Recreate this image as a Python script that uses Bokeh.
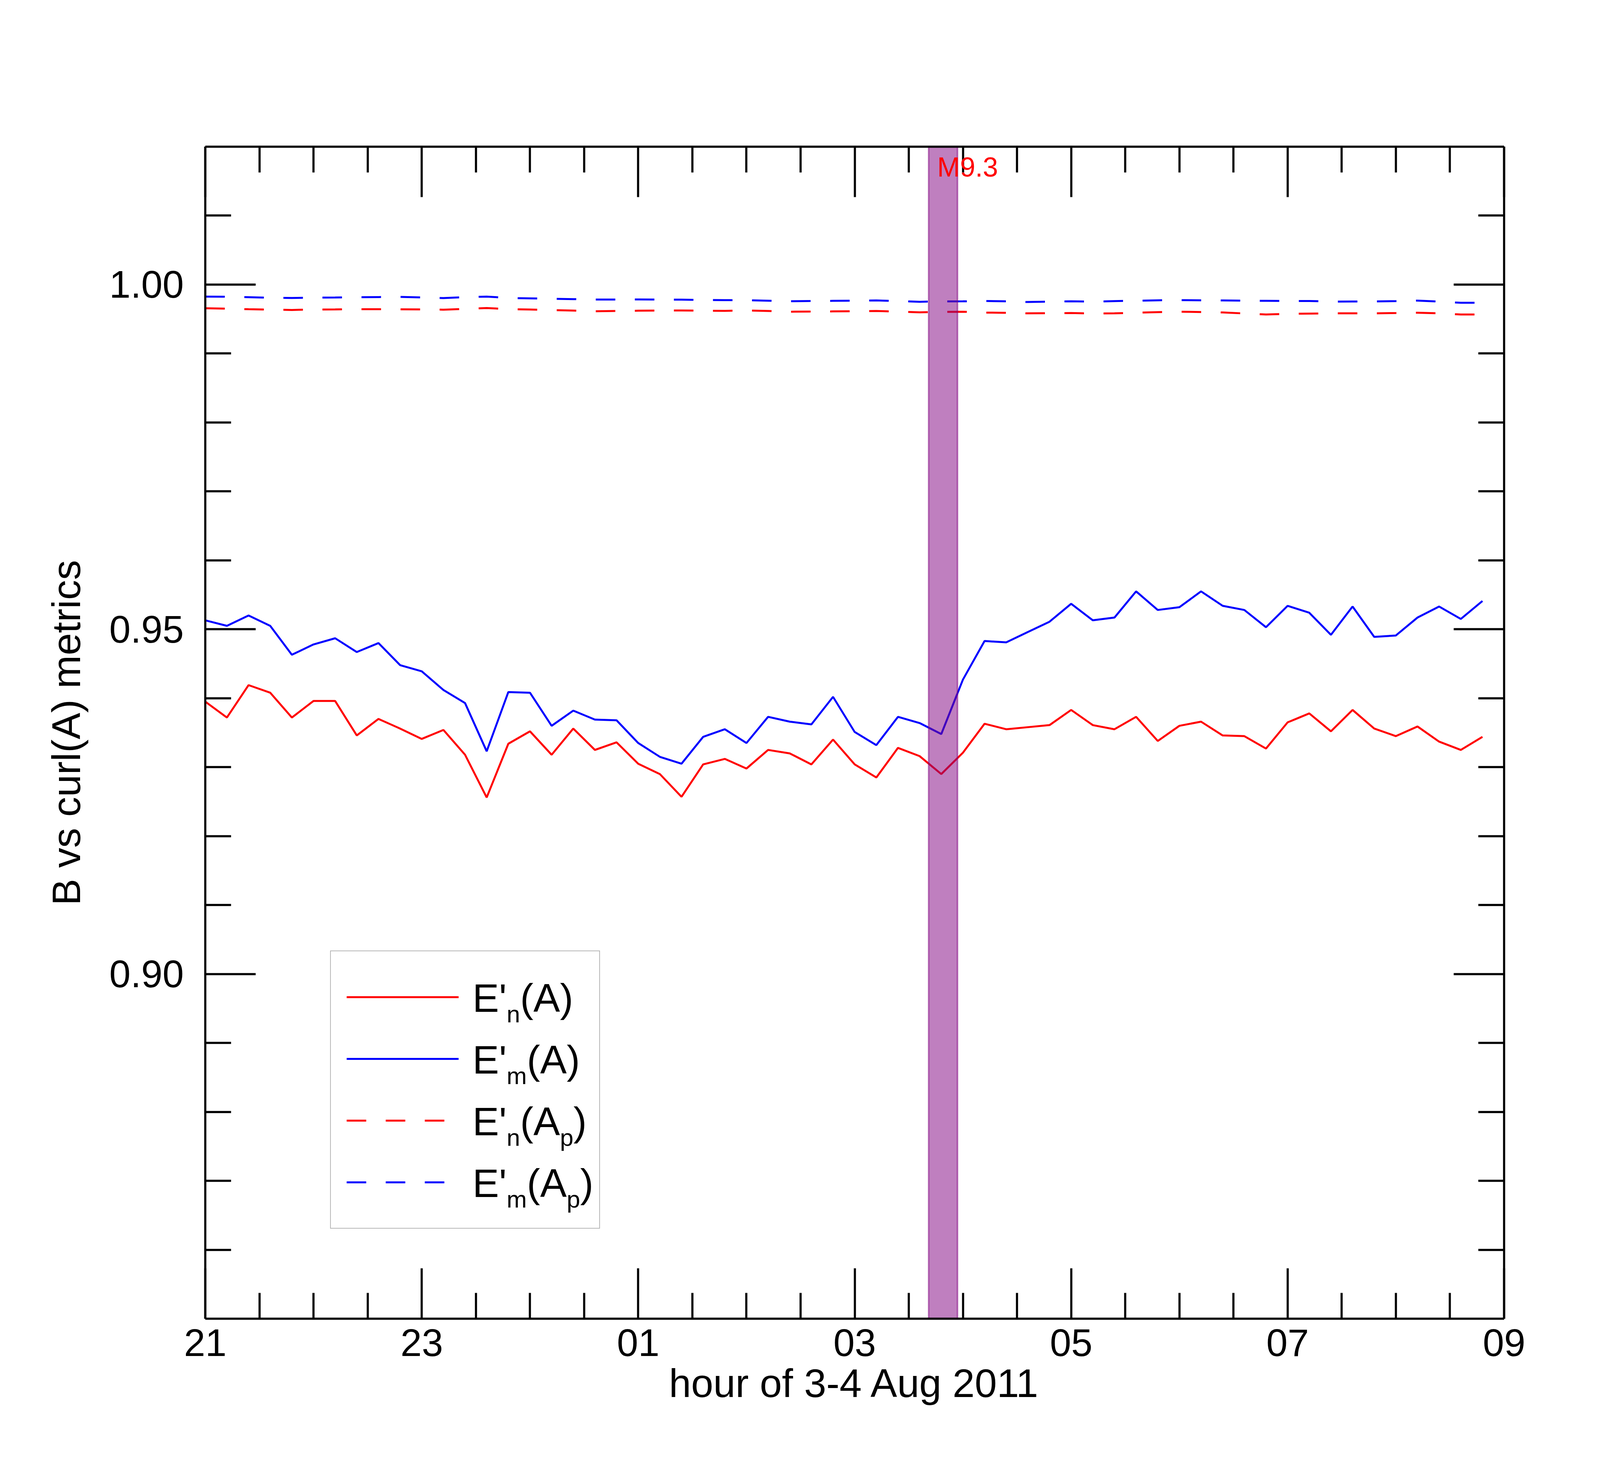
from bokeh.plotting import figure
from bokeh.models import (FixedTicker, LinearAxis, Legend, LegendItem, Label,
                          NumeralTickFormatter, CustomJSTickFormatter, Range1d)
from bokeh.embed import file_html
from bokeh.resources import INLINE

# ---------------- data ----------------
times = ["21:00", "21:12", "21:24", "21:36", "21:48", "22:00", "22:12", "22:24", "22:36", "22:48",
         "23:00", "23:12", "23:24", "23:36", "23:48", "00:00", "00:12", "00:24", "00:36", "00:48",
         "01:00", "01:12", "01:24", "01:36", "01:48", "02:00", "02:12", "02:24", "02:36", "02:48",
         "03:00", "03:12", "03:24", "03:36", "03:48", "04:00", "04:12", "04:24", "04:36", "04:48",
         "05:00", "05:12", "05:24", "05:36", "05:48", "06:00", "06:12", "06:24", "06:36", "06:48",
         "07:00", "07:12", "07:24", "07:36", "07:48", "08:00", "08:12", "08:24", "08:36", "08:48"]

en_A = [0.9395, 0.9372, 0.9419, 0.9408, 0.9372, 0.9396, 0.9396, 0.9346, 0.9370, 0.9356,
        0.9341, 0.9354, 0.9318, 0.9256, 0.9334, 0.9352, 0.9318, 0.9356, 0.9325, 0.9336,
        0.9305, 0.9290, 0.9257, 0.9304, 0.9312, 0.9298, 0.9325, 0.9320, 0.9304, 0.9340,
        0.9304, 0.9285, 0.9328, 0.9316, 0.9290, 0.9321, 0.9363, 0.9355, 0.9358, 0.9361,
        0.9383, 0.9361, 0.9355, 0.9373, 0.9338, 0.9360, 0.9366, 0.9346, 0.9345, 0.9327,
        0.9365, 0.9378, 0.9352, 0.9383, 0.9356, 0.9345, 0.9359, 0.9337, 0.9325, 0.9344]

em_A = [0.9513, 0.9505, 0.9520, 0.9505, 0.9463, 0.9478, 0.9487, 0.9467, 0.9480, 0.9448,
        0.9439, 0.9412, 0.9393, 0.9323, 0.9409, 0.9408, 0.9360, 0.9382, 0.9369, 0.9368,
        0.9335, 0.9315, 0.9305, 0.9344, 0.9355, 0.9335, 0.9373, 0.9366, 0.9362, 0.9402,
        0.9351, 0.9332, 0.9373, 0.9364, 0.9348, 0.9427, 0.9483, 0.9481, 0.9496, 0.9511,
        0.9537, 0.9513, 0.9517, 0.9555, 0.9528, 0.9532, 0.9555, 0.9534, 0.9528, 0.9503,
        0.9534, 0.9524, 0.9492, 0.9533, 0.9489, 0.9491, 0.9517, 0.9533, 0.9515, 0.9541]

en_Ap = [0.99657, 0.99651, 0.99643, 0.99636, 0.99632, 0.99638, 0.99640, 0.99643, 0.99643, 0.99641,
         0.99640, 0.99636, 0.99647, 0.99660, 0.99643, 0.99638, 0.99630, 0.99623, 0.99613, 0.99617,
         0.99621, 0.99623, 0.99624, 0.99621, 0.99619, 0.99624, 0.99617, 0.99606, 0.99609, 0.99611,
         0.99613, 0.99617, 0.99607, 0.99598, 0.99604, 0.99606, 0.99594, 0.99590, 0.99583, 0.99585,
         0.99587, 0.99581, 0.99583, 0.99592, 0.99600, 0.99606, 0.99602, 0.99596, 0.99581, 0.99566,
         0.99575, 0.99579, 0.99583, 0.99583, 0.99583, 0.99587, 0.99592, 0.99583, 0.99566, 0.99566]

em_Ap = [0.99826, 0.99823, 0.99817, 0.99809, 0.99806, 0.99811, 0.99813, 0.99817, 0.99819, 0.99821,
         0.99813, 0.99804, 0.99817, 0.99826, 0.99806, 0.99800, 0.99794, 0.99789, 0.99783, 0.99783,
         0.99785, 0.99783, 0.99781, 0.99777, 0.99774, 0.99774, 0.99766, 0.99758, 0.99762, 0.99764,
         0.99766, 0.99770, 0.99760, 0.99751, 0.99755, 0.99757, 0.99762, 0.99757, 0.99747, 0.99753,
         0.99758, 0.99753, 0.99760, 0.99766, 0.99772, 0.99775, 0.99772, 0.99770, 0.99766, 0.99764,
         0.99762, 0.99762, 0.99753, 0.99755, 0.99755, 0.99760, 0.99768, 0.99753, 0.99736, 0.99736]

x_tick_hours = [0, 2, 4, 6, 8, 10, 12]
x_tick_labels = ["21", "23", "01", "03", "05", "07", "09"]
x_minor = [0.5, 1.0, 1.5, 2.5, 3.0, 3.5, 4.5, 5.0, 5.5, 6.5, 7.0, 7.5, 8.5, 9.0, 9.5, 10.5, 11.0, 11.5]
y_major = [0.90, 0.95, 1.00]
y_minor = [0.86, 0.87, 0.88, 0.89, 0.91, 0.92, 0.93, 0.94, 0.96, 0.97, 0.98, 0.99, 1.01]

flare_start = ["03:41"]
flare_end = ["03:57"]
flare_name = "M9.3"

# legend texts: (text, is_subscript) pieces for E'_n(A), E'_m(A), E'_n(A_p), E'_m(A_p)
legend_parts = [
    [("E'", False), ("n", True), ("(A)", False)],
    [("E'", False), ("m", True), ("(A)", False)],
    [("E'", False), ("n", True), ("(A", False), ("p", True), (")", False)],
    [("E'", False), ("m", True), ("(A", False), ("p", True), (")", False)],
]


def hours_since_21(t):
    h, m = t.split(":")
    h = int(h)
    if h < 21:
        h += 24
    return (h - 21) + int(m) / 60.0


x = [hours_since_21(t) for t in times]
fx0 = [hours_since_21(t) for t in flare_start]
fx1 = [hours_since_21(t) for t in flare_end]

XMIN, XMAX = 0.0, 12.0
YMIN, YMAX = 0.85, 1.02

FONT = "Liberation Sans"

W, H = 4370, 3745
BL, BR, BT, BB = 525, 520, 375, 370
FRAME_W, FRAME_H = W - BL - BR, H - BT - BB

p = figure(width=W, height=H, output_backend="svg", toolbar_location=None,
           x_range=Range1d(XMIN, XMAX), y_range=Range1d(YMIN, YMAX),
           x_axis_location=None, y_axis_location=None,
           min_border_left=BL, min_border_right=BR,
           min_border_top=BT, min_border_bottom=BB)
p.grid.visible = False
p.outline_line_color = None
p.background_fill_color = "white"
p.border_fill_color = "white"

LW = 5
r1 = p.line(x, en_A, line_color="#ff0000", line_width=LW)
r2 = p.line(x, em_A, line_color="#0000ff", line_width=LW)
r3 = p.line(x, en_Ap, line_color="#ff0000", line_width=LW, line_dash="50 50")
r4 = p.line(x, em_Ap, line_color="#0000ff", line_width=LW, line_dash="50 50")

# flare interval (semi-transparent purple, drawn above the curves)
p.quad(left=fx0, right=fx1, bottom=[YMIN], top=[YMAX],
       fill_color="#800080", fill_alpha=0.5,
       line_color="#800080", line_alpha=0.5, line_width=4)

p.add_layout(Label(x=fx0[0], y=YMAX, x_offset=22, y_offset=-13, text=flare_name,
                   text_color="#ff0000", text_font=FONT, text_font_size="70px",
                   text_baseline="top", text_align="left"))


def style_axis(ax, labels=True):
    ax.axis_line_width = 5.5
    ax.axis_line_color = "black"
    ax.major_tick_line_width = 5.5
    ax.minor_tick_line_width = 5.5
    ax.major_tick_line_color = "black"
    ax.minor_tick_line_color = "black"
    ax.major_tick_in = 129
    ax.major_tick_out = 0
    ax.minor_tick_in = 66
    ax.minor_tick_out = 0
    ax.major_label_text_font = FONT
    ax.major_label_text_font_size = "98px"
    ax.major_label_text_color = "black"
    ax.axis_label_text_font = FONT
    ax.axis_label_text_font_size = "102px"
    ax.axis_label_text_font_style = "normal"
    ax.axis_label_text_color = "black"
    if not labels:
        ax.formatter = CustomJSTickFormatter(code="return ''")


xt = FixedTicker(ticks=x_tick_hours, minor_ticks=x_minor)
yt = FixedTicker(ticks=y_major, minor_ticks=y_minor)

xb = LinearAxis(ticker=xt, axis_label="hour of 3-4 Aug 2011")
xb.major_label_overrides = {h: s for h, s in zip(x_tick_hours, x_tick_labels)}
style_axis(xb)
xb.major_label_standoff = 27
xb.axis_label_standoff = 10
p.add_layout(xb, "below")

xa = LinearAxis(ticker=xt)
style_axis(xa, labels=False)
p.add_layout(xa, "above")

yl = LinearAxis(ticker=yt, axis_label="B vs curl(A) metrics",
                formatter=NumeralTickFormatter(format="0.00"))
style_axis(yl)
yl.major_label_standoff = 55
yl.axis_label_standoff = 50
p.add_layout(yl, "left")

yr = LinearAxis(ticker=yt)
style_axis(yr, labels=False)
p.add_layout(yr, "right")

# ---------------- legend (box + line samples from Bokeh's Legend) ----------------
LEG_X, LEG_Y = 320, 230           # bottom-left of legend box, px from frame bottom-left
PAD, ROW_H, ROW_GAP = 40, 154, 4
GLYPH_W, STANDOFF, LABEL_W = 287, 37, 283
legend = Legend(items=[LegendItem(label=" ", renderers=[r]) for r in [r1, r2, r3, r4]],
                location=(LEG_X, LEG_Y), margin=0, padding=PAD, spacing=ROW_GAP,
                glyph_width=GLYPH_W, glyph_height=ROW_H, label_standoff=STANDOFF,
                label_width=LABEL_W, label_height=ROW_H,
                label_text_font=FONT, label_text_font_size="102px",
                border_line_color="#707070", border_line_width=2,
                background_fill_color="white", background_fill_alpha=0.0)
p.add_layout(legend)


def fx(px):   # frame px from left -> data x
    return XMIN + px * (XMAX - XMIN) / FRAME_W


def fy(py):   # frame px from bottom -> data y
    return YMIN + py * (YMAX - YMIN) / FRAME_H


# legend texts with real subscripts, chained with Arial/Liberation advance widths
ADV = {"E": 0.667, "'": 0.191, "n": 0.556, "m": 0.833, "(": 0.333, "A": 0.667,
       ")": 0.333, "p": 0.556}
BIG, SMALL = 102, 62
leg_h = 2 * PAD + 4 * ROW_H + 3 * ROW_GAP
top_y = LEG_Y + leg_h
x_text0 = LEG_X + PAD + GLYPH_W + STANDOFF
for k, parts in enumerate(legend_parts):
    cy = top_y - PAD - ROW_H / 2 - k * (ROW_H + ROW_GAP)
    cx = x_text0
    for txt, sub in parts:
        size = SMALL if sub else BIG
        mid = cy - (41 if sub else 0)
        p.add_layout(Label(x=fx(cx), y=fy(mid), text=txt,
                           text_font=FONT, text_font_size=f"{size}px", text_color="black",
                           text_align="left", text_baseline="middle"))
        cx += sum(ADV[c] for c in txt) * size

open("out.html", "w").write(file_html(p, INLINE))
